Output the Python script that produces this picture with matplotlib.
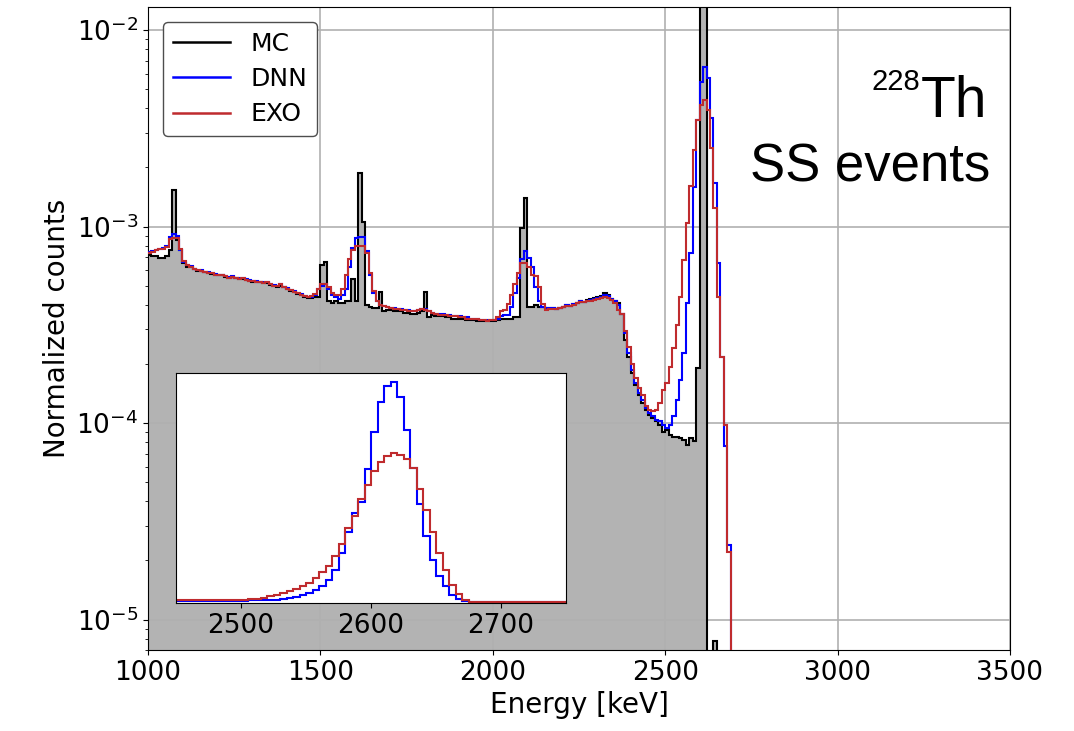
import numpy as np
import matplotlib.pyplot as plt
from matplotlib.lines import Line2D

# main histogram: 10 keV bins starting at 1000 keV, values in units of 1e-4
bin_start = 1000
bin_width = 10

mc = [7.2, 7.1, 7.1, 6.9, 6.9, 7.1, 7.6, 15.4, 8.5, 7.6, 6.5, 6.2, 6.2,
      6.05, 5.95, 5.95, 5.85, 5.8, 5.75, 5.7, 5.65, 5.65, 5.55, 5.5, 5.55, 5.45, 5.4, 5.4, 5.35,
      5.3, 5.25, 5.25, 5.2, 5.15, 5.15, 5.05, 5.0, 4.95, 5.0, 4.9, 4.8, 4.7, 4.65,
      4.55, 4.5, 4.4, 4.35, 4.35, 4.4,
      4.4, 6.4, 6.6, 4.2, 4.1, 4.2, 4.1,
      4.1, 4.2, 4.2, 5.4, 4.2, 18.7, 10.6, 4.0, 3.9, 3.85, 3.85, 4.65,
      3.7, 3.75, 3.75, 3.7, 3.7, 3.7, 3.65, 3.65, 3.6, 3.6, 3.65, 3.7, 4.65, 3.47, 3.55, 3.5,
      3.5, 3.5, 3.45, 3.45, 3.4, 3.4, 3.4, 3.4, 3.35, 3.35, 3.35, 3.3, 3.3, 3.3, 3.3, 3.3, 3.3,
      3.35, 3.4, 3.4, 3.4, 3.4, 3.45, 3.45, 9.8, 13.9, 3.9, 3.9, 4.0, 3.9, 3.9, 3.85, 3.85,
      3.85, 3.8, 3.85, 3.9, 4.0, 3.95, 4.05, 4.1, 4.2, 4.15, 4.25, 4.3, 4.35, 4.4, 4.45, 4.6,
      4.5, 4.3, 4.2, 4.06,
      3.61, 2.64, 2.18, 1.79, 1.56, 1.39, 1.26, 1.16, 1.10, 1.06, 1.02, 0.98, 0.90, 0.92,
      0.87, 0.85, 0.85, 0.84, 0.82, 0.77, 0.84, 0.81, 1.90, 200, 500, 0, 0, 0.078, 0, 0,
      0, 0, 0]

dnn = [7.4, 7.5, 7.6, 7.7, 7.8, 8.0, 8.8, 9.2, 9.0, 7.6, 6.6, 6.4, 6.3,
       6.1, 6.0, 6.0, 5.9, 5.85, 5.8, 5.75, 5.7, 5.7, 5.6, 5.55, 5.6, 5.5, 5.45, 5.45, 5.4,
       5.35, 5.3, 5.3, 5.25, 5.2, 5.2, 5.1, 5.05, 5.0, 5.1, 4.95, 4.85, 4.75, 4.7,
       4.6, 4.55, 4.45, 4.4, 4.4, 4.5,
       4.8, 5.0, 5.1, 4.8, 4.5, 4.4, 4.3,
       4.5, 4.8, 6.2, 7.8, 8.7, 8.8, 8.9, 7.5, 5.7, 4.6, 4.2, 4.0,
       3.95, 3.9, 3.85, 3.85, 3.8, 3.8, 3.75, 3.75, 3.7, 3.7, 3.75, 3.8, 3.8, 3.7, 3.65, 3.6,
       3.6, 3.6, 3.55, 3.55, 3.5, 3.5, 3.5, 3.45, 3.45, 3.4, 3.4, 3.4, 3.35, 3.35, 3.35, 3.35, 3.35,
       3.4, 3.5, 3.55, 3.55, 3.9, 4.6, 5.5, 6.8, 7.5, 6.9, 6.2, 4.9, 4.2, 3.9, 3.85, 3.85,
       3.85, 3.8, 3.85, 3.9, 4.0, 3.95, 4.05, 4.1, 4.2, 4.15, 4.2, 4.25, 4.3, 4.35, 4.4, 4.5,
       4.45, 4.3, 4.2, 4.0,
       3.61, 2.86, 2.26, 1.86, 1.59, 1.42, 1.31, 1.19, 1.12, 1.08, 1.04, 1.02, 0.98, 0.94,
       0.98, 1.08, 1.31, 1.66, 2.26, 4.06, 7.3, 15.9, 34.8, 54.6, 65.0, 56.8, 35.5, 16.6, 6.5, 2.18,
       0.76, 0.24, 0]

exo = [7.3, 7.4, 7.6, 7.7, 7.7, 7.9, 8.6, 8.7, 8.7, 7.7, 6.7, 6.4, 6.2,
       6.1, 6.0, 5.95, 5.9, 5.8, 5.8, 5.7, 5.7, 5.65, 5.6, 5.5, 5.55, 5.5, 5.4, 5.45, 5.35,
       5.3, 5.3, 5.25, 5.2, 5.15, 5.2, 5.1, 5.0, 5.0, 5.1, 4.9, 4.8, 4.75, 4.65,
       4.6, 4.5, 4.45, 4.4, 4.45, 4.55,
       4.8, 5.1, 5.1, 4.9, 4.6, 4.5, 4.5,
       4.8, 5.7, 6.8, 7.6, 8.0, 8.0, 8.0, 7.3, 5.8, 4.7, 4.2, 4.0,
       3.95, 3.9, 3.85, 3.8, 3.8, 3.75, 3.75, 3.7, 3.7, 3.7, 3.75, 3.8, 3.75, 3.7, 3.65, 3.6,
       3.55, 3.55, 3.55, 3.5, 3.5, 3.5, 3.45, 3.45, 3.4, 3.4, 3.4, 3.4, 3.35, 3.35, 3.3, 3.35, 3.35,
       3.45, 3.7, 3.75, 4.05, 4.5, 5.1, 5.8, 6.5, 6.5, 6.25, 5.7, 5.6, 4.9, 4.05, 3.75, 3.8,
       3.8, 3.8, 3.85, 3.9, 3.95, 3.95, 4.0, 4.1, 4.15, 4.15, 4.2, 4.2, 4.25, 4.3, 4.35, 4.4,
       4.35, 4.25, 4.1, 3.76,
       3.6, 2.95, 2.45, 2.0, 1.7, 1.5, 1.39, 1.22, 1.17, 1.15, 1.16, 1.26, 1.47, 1.59,
       1.94, 2.4, 3.15, 4.4, 6.76, 10.4, 16.0, 24.5, 34.8, 41.5, 44.0, 39.2, 25.0, 12.4, 4.4, 2.18,
       0.98, 0.22, 0]

# inset: 5 keV bins from 2450 keV, relative heights
zoom_start = 2450
zoom_width = 5
dnn_zoom = [7, 7, 7, 7, 7, 7, 7, 7, 7, 7, 7, 8, 8, 8, 8, 9, 11, 14, 18, 25,
            30, 38, 50, 68, 100, 150, 212, 270, 302, 402, 512, 602, 650, 662, 618, 520, 405, 297, 202, 130,
            82, 50, 25, 12, 5, 2, 2, 2, 2, 2, 2, 2, 2, 2, 2, 2, 2, 2, 2, 2]
exo_zoom = [10, 10, 10, 10, 10, 10, 10, 10, 10, 10, 10, 11, 13, 16, 20, 24, 29, 35, 42, 50,
            60, 75, 92, 112, 140, 178, 225, 262, 312, 355, 395, 422, 440, 450, 445, 432, 405, 342, 280, 212,
            150, 100, 55, 28, 10, 4, 2, 2, 2, 2, 2, 2, 2, 2, 2, 2, 2, 2, 2, 2]

blue = 'blue'
red = '#bf2b2e'
floor = 1e-9


def scaled(vals):
    v = np.array(vals, dtype=float) * 1e-4
    return np.where(v > 0, v, floor)


edges = bin_start + bin_width * np.arange(len(mc) + 1)

fig = plt.figure(figsize=(10.74, 7.31), dpi=100)
ax = fig.add_axes([0.1378, 0.1108, 0.8026, 0.8796])
ax.set_yscale('log')

ax.stairs(scaled(mc), edges, baseline=floor, fill=True, color='0.7', zorder=1)
ax.stairs(scaled(mc), edges, baseline=None, color='black', lw=1.5, zorder=2)
ax.stairs(scaled(dnn), edges, baseline=None, color=blue, lw=1.5, zorder=3)
ax.stairs(scaled(exo), edges, baseline=None, color=red, lw=1.5, zorder=4)

ax.set_xlim(1000, 3500)
ax.set_ylim(7.0e-6, 1.31e-2)
ax.set_xticks([1000, 1500, 2000, 2500, 3000, 3500])
ax.grid(True, which='major', color='#b0b0b0', lw=1.2)
ax.tick_params(labelsize=19)
ax.set_xlabel('Energy [keV]', fontsize=20)
ax.set_ylabel('Normalized counts', fontsize=20)

handles = [Line2D([], [], color='black', lw=1.8),
           Line2D([], [], color=blue, lw=1.8),
           Line2D([], [], color=red, lw=1.8)]
leg = ax.legend(handles, ['MC', 'DNN', 'EXO'], loc='upper left', fontsize=18,
                bbox_to_anchor=(0.0174, 0.9767), borderaxespad=0,
                handlelength=2.3, labelspacing=0.45, framealpha=1)
leg.get_frame().set_edgecolor('0.3')

th = fig.text(987 / 1074, 1 - 117 / 731, 'Th', ha='right', va='baseline',
              fontsize=41, family='Liberation Sans')
fig.text(990 / 1074, 1 - 182 / 731, 'SS events', ha='right', va='baseline',
         fontsize=38, family='Liberation Sans')
fig.canvas.draw()
th_box = th.get_window_extent()
fig.text(th_box.x0 / fig.bbox.width, 1 - 90 / 731, '228', ha='right', va='baseline',
         fontsize=21, family='Liberation Sans')

# inset
zedges = zoom_start + zoom_width * np.arange(len(dnn_zoom) + 1)
axins = fig.add_axes([0.1639, 0.1751, 0.3631, 0.3146])
axins.stairs(dnn_zoom, zedges, baseline=None, color=blue, lw=1.5)
axins.stairs(exo_zoom, zedges, baseline=None, color=red, lw=1.5)
axins.set_xlim(2450, 2750)
axins.set_ylim(0, 690)
axins.set_yticks([])
axins.set_xticks([2500, 2600, 2700])
axins.tick_params(labelsize=19)

fig.savefig('out.png', dpi=100)
